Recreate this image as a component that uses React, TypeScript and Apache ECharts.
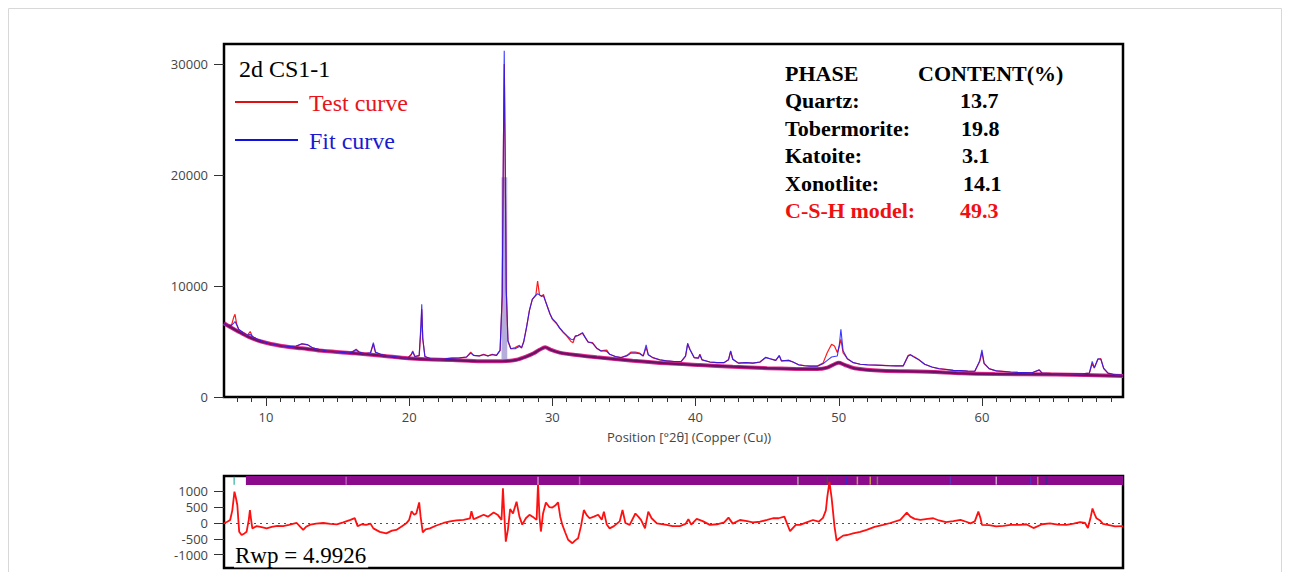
import React, { useEffect, useRef } from "react";
import * as echarts from "echarts";

// ---------- DATA ----------
const twoTheta = [
  7.07, 7.3, 7.6, 7.75, 7.84, 7.95, 8.1, 8.4, 8.7, 8.9, 9.05, 9.4, 9.8, 10.2, 10.7, 11.2, 11.7, 12.1, 12.5, 12.9,
  13.3, 13.8, 14.3, 14.8, 15.3, 15.8, 16.1, 16.3, 16.5, 16.9, 17.3, 17.5, 17.65, 18.0, 18.5, 19.0, 19.5, 19.9, 20.15, 20.25,
  20.4, 20.7, 20.82, 20.88, 20.95, 21.1, 21.5, 22.0, 22.5, 23.0, 23.5, 24.0, 24.3, 24.5, 24.9, 25.2, 25.5, 25.8, 26.1, 26.35,
  26.5, 26.58, 26.64, 26.7, 26.78, 26.9, 27.1, 27.4, 27.7, 27.85, 28.0, 28.2, 28.4, 28.6, 28.85, 28.97, 29.1, 29.25, 29.38, 29.5,
  29.83, 30.0, 30.3, 30.5, 30.77, 31.0, 31.3, 31.45, 31.6, 31.8, 32.1, 32.3, 32.5, 32.8, 33.1, 33.4, 33.6, 33.8, 34.0, 34.4,
  34.8, 35.2, 35.5, 35.8, 36.1, 36.35, 36.55, 36.7, 37.0, 37.5, 38.0, 38.5, 39.0, 39.3, 39.45, 39.6, 39.9, 40.2, 40.3, 40.45,
  41.0, 41.5, 42.0, 42.3, 42.45, 42.6, 43.0, 43.5, 44.0, 44.5, 44.9, 45.2, 45.6, 45.85, 46.0, 46.5, 46.8, 47.2, 47.6, 48.0,
  48.5, 48.9, 49.2, 49.5, 49.7, 49.9, 50.05, 50.15, 50.3, 50.6, 51.0, 51.5, 52.0, 52.5, 53.0, 53.5, 54.0, 54.5, 54.85, 55.0,
  55.3, 55.6, 56.0, 56.5, 57.0, 57.5, 58.0, 58.5, 59.0, 59.5, 59.85, 60.0, 60.15, 60.5, 61.0, 61.5, 62.0, 62.5, 63.0, 63.5,
  64.0, 64.2, 64.8, 65.5, 66.0, 66.5, 67.0, 67.5, 67.7, 67.85, 68.1, 68.3, 68.5, 68.8, 69.2, 69.5, 69.85,
];

const testCurve = [
  6600, 6450, 6500, 7200, 7450, 6600, 6050, 5800, 5550, 5900, 5450, 5200, 5000, 4850, 4700, 4600, 4520, 4560, 4780, 4700,
  4400, 4250, 4150, 4080, 4020, 3970, 4150, 4300, 4050, 3900, 3950, 4750, 4000, 3850, 3700, 3650, 3550, 3500, 3850, 4150,
  3650, 3700, 6000, 7900, 5200, 3650, 3450, 3420, 3450, 3500, 3520, 3600, 4050, 3750, 3700, 3850, 3700, 3850, 3750, 4200,
  9000, 22000, 30000, 22000, 9500, 5000, 4350, 4450, 4650, 4400, 5000, 6300, 7800, 8800, 9200, 10450, 9200, 9050, 9250, 8700,
  7500, 7000, 6600, 6200, 5800, 5500, 5000, 4900, 5500, 5550, 5750, 5350, 4950, 4900, 4380, 4150, 4200, 4230, 3850, 3650,
  3550, 3750, 4050, 4050, 3950, 3700, 4450, 3800, 3550, 3350, 3250, 3200, 3200, 3650, 4750, 4300, 3550, 3500, 3850, 3350,
  3150, 3100, 3100, 3350, 4100, 3400, 3050, 3100, 3050, 3150, 3580, 3450, 3300, 3700, 3250, 3300, 3150, 2900, 2820, 2780,
  2780, 3050, 4000, 4750, 4600, 4000, 4600, 5200, 4000, 3450, 3100, 2950, 2900, 2880, 2850, 2820, 2800, 2800, 3750, 3800,
  3600, 3350, 2950, 2700, 2550, 2480, 2400, 2380, 2330, 2320, 3200, 4000, 3000, 2550, 2350, 2300, 2250, 2220, 2200, 2180,
  2420, 2150, 2120, 2100, 2090, 2080, 2080, 2150, 3000, 2600, 3400, 3450, 2550, 2150, 2030, 2000, 1950,
];

const fitCurve = [
  6600, 6450, 6450, 6650, 6800, 6500, 6100, 5800, 5550, 5650, 5450, 5200, 5000, 4850, 4700, 4600, 4540, 4600, 4800, 4720,
  4400, 4250, 4150, 4080, 4020, 3970, 4100, 4250, 4050, 3900, 3980, 4900, 4050, 3850, 3700, 3650, 3550, 3500, 3800, 4050,
  3650, 3750, 6500, 8350, 5300, 3650, 3450, 3420, 3450, 3500, 3520, 3600, 3950, 3750, 3700, 3800, 3700, 3800, 3750, 4200,
  9300, 22500, 31200, 22500, 9800, 5100, 4350, 4350, 4550, 4450, 4950, 6300, 7800, 8800, 9150, 9300, 9200, 9100, 9100, 8700,
  7500, 7050, 6650, 6250, 5850, 5550, 5200, 5150, 5450, 5550, 5800, 5350, 4950, 4850, 4400, 4150, 4150, 4100, 3850, 3650,
  3550, 3700, 3950, 3950, 3900, 3700, 4700, 3800, 3550, 3350, 3250, 3200, 3200, 3700, 4850, 4300, 3550, 3500, 3800, 3350,
  3150, 3100, 3100, 3350, 4150, 3400, 3050, 3100, 3050, 3150, 3550, 3450, 3300, 3750, 3250, 3300, 3150, 2900, 2820, 2780,
  2780, 3000, 3300, 3600, 3650, 3700, 4800, 6100, 4200, 3450, 3100, 2950, 2900, 2880, 2850, 2820, 2800, 2800, 3700, 3800,
  3550, 3350, 2950, 2700, 2550, 2480, 2400, 2380, 2330, 2320, 3300, 4250, 3050, 2550, 2350, 2300, 2250, 2220, 2200, 2180,
  2450, 2150, 2120, 2100, 2090, 2080, 2080, 2150, 3200, 2650, 3450, 3400, 2600, 2150, 2030, 2000, 1950,
];

const bgTheta = [
  7.07, 7.5, 8.0, 8.76, 9.4, 10.0, 11.1, 12.5, 14.1, 16.2, 18.1, 19.9, 21.2, 23.0, 25.0, 26.5, 27.5, 28.2, 28.7, 29.1,
  29.5, 29.9, 30.5, 31.7, 33.1, 35.6, 38.0, 40.3, 42.6, 45.0, 47.0, 48.5, 49.2, 49.7, 50.0, 50.4, 51.1, 53.0, 56.2, 58.6,
  60.9, 65.2, 69.85,
];
const bgCurve = [
  6640, 6300, 5950, 5430, 5100, 4890, 4595, 4385, 4145, 3935, 3720, 3485, 3395, 3330, 3220, 3220, 3350, 3650, 3935, 4250,
  4480, 4250, 4000, 3780, 3575, 3270, 3030, 2880, 2730, 2600, 2530, 2520, 2650, 2950, 3090, 2900, 2585, 2370, 2280, 2130,
  2070, 2030, 1890,
];

// Quartz main reflection profile (shaded band): 2θ range and intensity range
const quartzRange = [26.45, 26.85];
const quartzLevels = [3400, 19800];

const residTheta = [
  7.07, 7.3, 7.5, 7.65, 7.8, 7.9, 8.0, 8.13, 8.3, 8.5, 8.65, 8.8, 8.88, 8.95, 9.05, 9.35, 9.7, 10.05, 10.4, 10.8,
  11.2, 11.6, 12.15, 12.4, 12.6, 12.8, 13.1, 13.5, 14.0, 14.5, 14.95, 15.4, 15.9, 16.2, 16.4, 16.7, 17.0, 17.3, 17.5, 17.95,
  18.4, 18.8, 19.1, 19.5, 19.8, 20.0, 20.17, 20.35, 20.5, 20.7, 20.8, 20.95, 21.15, 21.45, 21.9, 22.4, 22.85, 23.3, 23.8, 24.25,
  24.35, 24.5, 24.8, 25.2, 25.5, 25.9, 26.2, 26.45, 26.55, 26.65, 26.75, 26.9, 27.05, 27.25, 27.5, 27.7, 27.9, 28.15, 28.4, 28.7,
  28.9, 29.0, 29.1, 29.2, 29.35, 29.55, 29.8, 30.0, 30.2, 30.4, 30.55, 30.7, 30.9, 31.1, 31.4, 31.6, 31.8, 32.0, 32.2, 32.4,
  32.6, 32.9, 33.2, 33.45, 33.6, 33.8, 34.0, 34.3, 34.7, 34.9, 35.1, 35.4, 35.8, 36.0, 36.2, 36.47, 36.7, 36.93, 37.3, 37.98,
  38.4, 38.9, 39.3, 39.5, 39.7, 40.08, 40.5, 41.0, 41.5, 42.0, 42.3, 42.6, 43.1, 43.6, 44.0, 44.5, 45.0, 45.4, 45.8, 46.2,
  46.6, 47.0, 47.3, 47.8, 48.2, 48.6, 48.9, 49.1, 49.2, 49.35, 49.5, 49.6, 49.7, 49.85, 50.0, 50.3, 50.6, 51.0, 51.5, 51.95,
  52.5, 53.1, 53.6, 54.3, 54.75, 55.0, 55.3, 55.7, 56.2, 56.6, 57.0, 57.5, 58.0, 58.5, 58.9, 59.2, 59.5, 59.75, 59.9, 60.0,
  60.5, 61.0, 61.5, 62.0, 62.65, 63.1, 63.6, 64.2, 64.75, 65.3, 65.9, 66.4, 66.85, 67.2, 67.4, 67.6, 67.72, 67.85, 68.0, 68.25,
  68.45, 68.8, 69.3, 69.85,
];
const residual = [
  -10, 40, 95, 400, 990, 800, 570, -275, -380, -330, -275, 100, 410, 150, -170, -100, -130, -170, -120, -90,
  -100, -60, 0, -120, -215, -120, -50, -20, 0, -30, -45, 20, 100, 155, -100, -40, -60, -20, -170, -280,
  -330, -240, -220, -100, -10, 100, 370, 260, 300, 650, 200, -300, -200, -170, -80, 0, 50, 80, 100, 150,
  370, 120, 180, 260, 200, 330, 250, 100, 1100, 200, -590, -200, 440, 300, 675, 200, -50, 150, 260, 170,
  100, 1255, 200, -270, 300, 650, 500, 490, 550, 650, 200, -60, -300, -530, -640, -550, -480, -100, 410, 250,
  150, 200, 260, 100, 360, -50, -170, -100, 50, 410, 0, -60, 300, 200, 90, -170, 360, 150, -10, -60,
  -100, -100, -30, 120, -50, 130, 60, -60, -40, 20, 170, -20, 95, 60, 20, 40, 100, 150, 150, 200,
  -260, -60, -60, 30, 95, 40, 160, 400, 830, 1300, 800, 360, -100, -560, -500, -400, -380, -330, -280, -215,
  -120, -60, 0, 100, 330, 200, 130, 100, 130, 150, 80, 30, 60, 100, 40, -10, 50, 360, 150, -60,
  -70, -110, -90, -60, -60, -40, -160, -40, -10, -50, -60, -20, 30, 0, -160, 200, 460, 300, 150, 80,
  -30, -60, -110, -100,
];

// Phase reflection markers in the top band of the difference plot
const markerTheta = [7.78, 15.6, 29.0, 31.9, 47.15, 49.2, 50.55, 51.3, 52.2, 52.7, 57.8, 61.0, 63.4, 63.9, 64.5];
const markerColors = ["#2fb0a0", "#c070c0", "#d8a8d8", "#c080c0", "#b0d0a0", "#306030", "#3030d0", "#c0c060", "#d0c040", "#70a040", "#5040c0", "#e0d0e0", "#4040c0", "#c0b040", "#303090"];

const xMajorTicks = [10, 20, 30, 40, 50, 60];
const xMinorTicks = [8, 9, 11, 12, 13, 14, 15, 16, 17, 18, 19, 21, 22, 23, 24, 25, 26, 27, 28, 29, 31, 32, 33, 34, 35, 36, 37, 38, 39, 41, 42, 43, 44, 45, 46, 47, 48, 49, 51, 52, 53, 54, 55, 56, 57, 58, 59, 61, 62, 63, 64, 65, 66, 67, 68, 69];
const yTicks = [0, 10000, 20000, 30000];
const residTicks = [-1000, -500, 0, 500, 1000];

const phaseNames = ["Quartz:", "Tobermorite:", "Katoite:", "Xonotlite:", "C-S-H model:"];
const phaseContent = ["13.7", "19.8", "3.1", "14.1", "49.3"];

// ---------- CHART ----------
const X_MIN = 7.07;
const X_MAX = 69.85;
const AXIS_FONT = '"Open Sans", "DejaVu Sans", sans-serif';
const SERIF = '"Liberation Serif", "Times New Roman", serif';

export default function App() {
  const ref = useRef<HTMLDivElement>(null);
  useEffect(() => {
    if (!ref.current) return;
    const chart = echarts.init(ref.current, null, { renderer: "svg" });

    const zip = (xs: number[], ys: number[]) => xs.map((x, i) => [x, ys[i]]);
    const plain = (v: number) => String(v);

    const graphics: any[] = [
      {
        type: "rect",
        shape: { x: 8.5, y: 8.5, width: 1273, height: 600 },
        style: { fill: "none", stroke: "#d8d8d8", lineWidth: 1 },
        silent: true,
      },
      { type: "text", x: 239, y: 69, style: { text: "2d CS1-1", font: `24px ${SERIF}`, fill: "#000", verticalAlign: "middle" } },
      { type: "line", shape: { x1: 235, y1: 102, x2: 298, y2: 102 }, style: { stroke: "#e01010", lineWidth: 1.8 } },
      { type: "text", x: 309, y: 103, style: { text: "Test curve", font: `24px ${SERIF}`, fill: "#e8141c", verticalAlign: "middle" } },
      { type: "line", shape: { x1: 235, y1: 140, x2: 298, y2: 140 }, style: { stroke: "#1010e0", lineWidth: 1.8 } },
      { type: "text", x: 309, y: 141, style: { text: "Fit curve", font: `24px ${SERIF}`, fill: "#1a1ad0", verticalAlign: "middle" } },
      { type: "text", x: 785, y: 73, style: { text: "PHASE", font: `bold 22px ${SERIF}`, fill: "#000", verticalAlign: "middle" } },
      { type: "text", x: 918, y: 73, style: { text: "CONTENT(%)", font: `bold 22px ${SERIF}`, fill: "#000", verticalAlign: "middle" } },
      {
        type: "text",
        x: 607,
        y: 437,
        style: { text: "Position [°2θ] (Copper (Cu))", font: `13px ${AXIS_FONT}`, fill: "#444", verticalAlign: "middle" },
      },
      {
        type: "text",
        x: 234,
        y: 555,
        z: 100,
        style: {
          text: "Rwp = 4.9926",
          font: `23px ${SERIF}`,
          fill: "#000",
          verticalAlign: "middle",
          backgroundColor: "#fff",
          padding: [1, 2, 1, 1],
        },
      },
    ];
    const rowY = [100.5, 128, 155.5, 183, 210];
    const valX = [960, 961, 962, 963, 960];
    phaseNames.forEach((n, i) => {
      const col = i === phaseNames.length - 1 ? "#f01010" : "#000";
      graphics.push({ type: "text", x: 785, y: rowY[i], style: { text: n, font: `bold 22px ${SERIF}`, fill: col, verticalAlign: "middle" } });
      graphics.push({ type: "text", x: valX[i], y: rowY[i], style: { text: phaseContent[i], font: `bold 22px ${SERIF}`, fill: col, verticalAlign: "middle" } });
    });

    const option: any = {
      animation: false,
      backgroundColor: "#fff",
      grid: [
        { left: 224, right: 167, top: 44, bottom: 175, show: true, borderColor: "#000", borderWidth: 2.5, backgroundColor: "#fff" },
        { left: 224, right: 167, top: 476, bottom: 4, show: true, borderColor: "#000", borderWidth: 2.5, backgroundColor: "#fff" },
      ],
      xAxis: [
        {
          gridIndex: 0,
          type: "value",
          position: "bottom",
          min: X_MIN,
          max: X_MAX,
          axisLine: { show: false },
          splitLine: { show: false },
          axisTick: { show: true, customValues: xMinorTicks, length: 5, lineStyle: { color: "#333", width: 1 } },
          axisLabel: { show: false },
        },
        {
          gridIndex: 0,
          type: "value",
          position: "bottom",
          min: X_MIN,
          max: X_MAX,
          axisLine: { show: false },
          splitLine: { show: false },
          axisTick: { show: true, customValues: xMajorTicks, length: 9, lineStyle: { color: "#333", width: 1 } },
          axisLabel: { show: true, customValues: xMajorTicks, margin: 13, fontSize: 13, color: "#444", fontFamily: AXIS_FONT, formatter: plain },
        },
        {
          gridIndex: 1,
          type: "value",
          min: X_MIN,
          max: X_MAX,
          axisLine: { show: false },
          splitLine: { show: false },
          axisTick: { show: false },
          axisLabel: { show: false },
        },
      ],
      yAxis: [
        {
          gridIndex: 0,
          type: "value",
          min: 0,
          max: 31800,
          axisLine: { show: false },
          splitLine: { show: false },
          axisTick: { show: true, customValues: yTicks, length: 10, lineStyle: { color: "#333" } },
          axisLabel: { customValues: yTicks, margin: 16, fontSize: 13, color: "#444", fontFamily: AXIS_FONT, formatter: plain },
        },
        {
          gridIndex: 1,
          type: "value",
          min: -1424,
          max: 1487,
          axisLine: { show: false },
          splitLine: { show: false },
          axisTick: { show: true, customValues: residTicks, length: 10, lineStyle: { color: "#333" } },
          axisLabel: { customValues: residTicks, margin: 16, fontSize: 13, color: "#444", fontFamily: AXIS_FONT, formatter: plain },
        },
      ],
      series: [
        {
          name: "Background (outer)",
          type: "line",
          xAxisIndex: 1,
          yAxisIndex: 0,
          data: zip(bgTheta, bgCurve),
          symbol: "none",
          smooth: 0.3,
          lineStyle: { width: 4, color: "#e0288c" },
          z: 2,
          markArea: {
            silent: true,
            itemStyle: { color: "rgba(150,140,205,0.7)" },
            data: [[{ xAxis: quartzRange[0], yAxis: quartzLevels[0] }, { xAxis: quartzRange[1], yAxis: quartzLevels[1] }]],
          },
        },
        {
          name: "Background",
          type: "line",
          xAxisIndex: 1,
          yAxisIndex: 0,
          data: zip(bgTheta, bgCurve),
          symbol: "none",
          smooth: 0.3,
          lineStyle: { width: 2.2, color: "#661466" },
          z: 3,
        },
        {
          name: "Test curve",
          type: "line",
          xAxisIndex: 1,
          yAxisIndex: 0,
          data: zip(twoTheta, testCurve),
          symbol: "none",
          lineStyle: { width: 1.2, color: "#ff1a1a" },
          z: 4,
        },
        {
          name: "Fit curve",
          type: "line",
          xAxisIndex: 1,
          yAxisIndex: 0,
          data: zip(twoTheta, fitCurve),
          symbol: "none",
          lineStyle: { width: 1.1, color: "#1a1aff", opacity: 0.85 },
          z: 5,
        },
        {
          name: "Difference",
          type: "line",
          xAxisIndex: 2,
          yAxisIndex: 1,
          data: zip(residTheta, residual),
          symbol: "none",
          lineStyle: { width: 1.8, color: "#ff1010" },
          z: 4,
          markLine: {
            silent: true,
            symbol: "none",
            label: { show: false },
            lineStyle: { type: [2, 4], color: "#2d5f5f", width: 1.2 },
            data: [{ yAxis: 0 }],
          },
          markArea: {
            silent: true,
            itemStyle: { color: "#8c0a8c" },
            data: [[{ xAxis: 8.6, yAxis: 1200 }, { xAxis: X_MAX, yAxis: 1487 }]],
          },
        },
        {
          name: "Reflections",
          type: "scatter",
          xAxisIndex: 2,
          yAxisIndex: 1,
          data: markerTheta.map((x, i) => ({ value: [x, 1340], itemStyle: { color: markerColors[i] } })),
          symbol: "rect",
          symbolSize: [1.5, 8],
          z: 6,
        },
      ],
      graphic: graphics,
    };

    chart.setOption(option);
    return () => chart.dispose();
  }, []);

  return <div ref={ref} style={{ position: "fixed", left: 0, top: 0, width: 1290, height: 572 }} />;
}
